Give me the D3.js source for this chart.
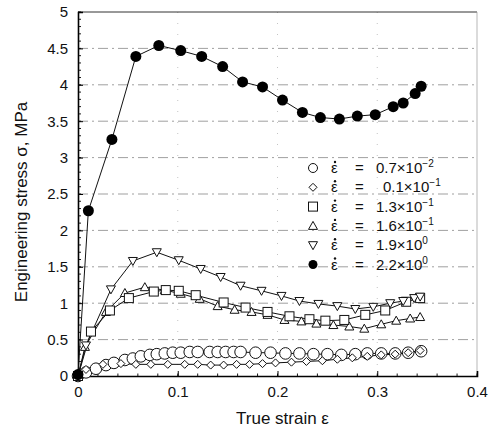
<!DOCTYPE html>
<html><head><meta charset="utf-8">
<script src="https://cdn.jsdelivr.net/npm/d3@7"></script>
<style>body{margin:0;background:#fff}text{font-family:"Liberation Sans",Arial,sans-serif;fill:#111}</style>
</head><body><svg id="c" width="496" height="438"></svg>
<script>
// ---- data ----
const xTicks = [0, 0.1, 0.2, 0.3, 0.4];
const yTicks = [0, 0.5, 1, 1.5, 2, 2.5, 3, 3.5, 4, 4.5, 5];
const yTickLabels = ["0","0.5","1","1.5","2","2.5","3","3.5","4","4.5","5"];
const xTickLabels = ["0","0.1","0.2","0.3","0.4"];

const strainC07 = [0,0.008,0.018,0.028,0.036,0.047,0.055,0.063,0.072,0.079,0.087,0.095,0.103,0.112,0.12,0.132,0.14,0.148,0.156,0.163,0.178,0.193,0.208,0.222,0.236,0.25,0.264,0.278,0.29,0.304,0.318,0.331,0.344];
const stressC07 = [0,0.05,0.10,0.15,0.18,0.22,0.24,0.27,0.29,0.30,0.31,0.32,0.32,0.33,0.33,0.33,0.33,0.33,0.33,0.33,0.32,0.32,0.31,0.31,0.30,0.30,0.29,0.30,0.31,0.31,0.31,0.32,0.34];

const strainD01 = [0,0.008,0.025,0.043,0.058,0.073,0.09,0.107,0.12,0.133,0.146,0.159,0.172,0.185,0.198,0.214,0.229,0.245,0.26,0.275,0.29,0.304,0.318,0.331,0.343];
const stressD01 = [0,0.09,0.16,0.17,0.16,0.16,0.16,0.16,0.16,0.15,0.15,0.16,0.16,0.17,0.18,0.19,0.20,0.21,0.23,0.25,0.27,0.29,0.30,0.32,0.35];

const strainS13 = [0,0.013,0.032,0.051,0.076,0.088,0.101,0.118,0.146,0.168,0.19,0.212,0.232,0.248,0.267,0.288,0.308,0.329,0.343];
const stressS13 = [0,0.61,0.90,1.07,1.16,1.18,1.17,1.11,1.01,0.94,0.88,0.82,0.78,0.76,0.77,0.84,0.90,1.02,1.07];

const strainT16 = [0,0.007,0.028,0.047,0.067,0.087,0.103,0.122,0.14,0.157,0.174,0.19,0.207,0.224,0.239,0.256,0.272,0.287,0.304,0.319,0.333,0.343];
const stressT16 = [0,0.40,0.88,1.14,1.22,1.18,1.13,1.06,0.96,0.91,0.88,0.84,0.77,0.75,0.72,0.70,0.68,0.65,0.71,0.76,0.79,0.81];

const strainV19 = [0,0.008,0.033,0.055,0.079,0.101,0.123,0.143,0.163,0.184,0.204,0.222,0.241,0.26,0.278,0.296,0.313,0.326,0.337,0.343];
const stressV19 = [0,0.42,1.19,1.58,1.70,1.59,1.47,1.36,1.24,1.17,1.10,1.03,0.99,0.96,0.92,0.95,1.00,1.03,1.07,1.09];

const strainF22 = [0,0.0104,0.034,0.058,0.081,0.103,0.124,0.145,0.165,0.185,0.205,0.225,0.243,0.262,0.28,0.298,0.316,0.326,0.338,0.344];
const stressF22 = [0.02,2.27,3.25,4.39,4.54,4.47,4.39,4.25,4.04,3.97,3.79,3.62,3.55,3.53,3.57,3.59,3.70,3.75,3.88,3.98];

const legendMant = ["0.7","0.1","1.3","1.6","1.9","2.2"];
const legendExp = ["-2","-1","-1","-1","0","0"];

// ---- drawing ----
const svg = d3.select("#c");
const x = d3.scaleLinear().domain([0,0.4]).range([78,477]);
const y = d3.scaleLinear().domain([0,5]).range([376,12]);

// grid
const g = svg.append("g");
g.selectAll("line.hg").data(yTicks.slice(1,-1)).join("line")
  .attr("x1",x(0)).attr("x2",x(0.4)).attr("y1",d=>y(d)).attr("y2",d=>y(d))
  .attr("stroke","#777").attr("stroke-width",0.7).attr("stroke-dasharray","10,4,2,4");
g.selectAll("line.vg").data(xTicks.slice(1,-1)).join("line")
  .attr("x1",d=>x(d)).attr("x2",d=>x(d)).attr("y1",y(0)).attr("y2",y(5))
  .attr("stroke","#aaa").attr("stroke-width",0.7).attr("stroke-dasharray","1,10");

// frame
svg.append("line").attr("x1",x(0)).attr("x2",x(0.4)).attr("y1",y(5)).attr("y2",y(5)).attr("stroke","#333").attr("stroke-width",1);
svg.append("line").attr("x1",x(0.4)).attr("x2",x(0.4)).attr("y1",y(5)).attr("y2",y(0)).attr("stroke","#999").attr("stroke-width",0.7);

// axes
const yAxis = d3.axisLeft(y).tickValues(yTicks).tickFormat((d,i)=>yTickLabels[i]).tickSize(-5).tickPadding(10);
const ya = svg.append("g").attr("transform",`translate(${x(0)},0)`).call(yAxis);
const xAxis = d3.axisBottom(x).tickValues(xTicks).tickFormat((d,i)=>xTickLabels[i]).tickSize(-5).tickPadding(10);
const xa = svg.append("g").attr("transform",`translate(0,${y(0)})`).call(xAxis);
[ya,xa].forEach(a=>{a.select(".domain").attr("stroke","#000").attr("stroke-width",1.6);
  a.selectAll(".tick line").attr("stroke","#000");
  a.selectAll("text").style("font-family","'Liberation Sans',Arial,sans-serif").style("font-size","15px").attr("fill","#111");});
// minor ticks
svg.append("g").selectAll("line").data(d3.range(0,5.001,0.1)).join("line")
  .attr("x1",x(0)).attr("x2",x(0)+3).attr("y1",d=>y(d)).attr("y2",d=>y(d)).attr("stroke","#000").attr("stroke-width",0.9);
svg.append("g").selectAll("line").data(d3.range(0,0.4001,0.02)).join("line")
  .attr("x1",d=>x(d)).attr("x2",d=>x(d)).attr("y1",y(0)).attr("y2",y(0)-2.5).attr("stroke","#000").attr("stroke-width",0.9);

// axis titles
svg.append("text").attr("transform",`translate(27,${(y(0)+y(5))/2+8}) rotate(-90)`).attr("text-anchor","middle")
  .style("font-size","17px").text("Engineering stress σ, MPa");
svg.append("text").attr("x",(x(0)+x(0.4))/2+5).attr("y",424).attr("text-anchor","middle")
  .style("font-size","17px").text("True strain ε");

// markers
function marker(sel, type){
  if(type==="circle") sel.append("circle").attr("r",5.8).attr("fill","#fff").attr("stroke","#111").attr("stroke-width",1);
  else if(type==="fcircle") sel.append("circle").attr("r",5.5).attr("fill","#000");
  else if(type==="diamond") sel.append("path").attr("d","M0,-4L4,0L0,4L-4,0Z").attr("fill","#fff").attr("stroke","#111").attr("stroke-width",1);
  else if(type==="square") sel.append("rect").attr("x",-4.5).attr("y",-4.5).attr("width",9).attr("height",9).attr("fill","#fff").attr("stroke","#111").attr("stroke-width",1);
  else if(type==="tri") sel.append("path").attr("d","M0,-4.5L4.5,3.5L-4.5,3.5Z").attr("fill","#fff").attr("stroke","#111").attr("stroke-width",1);
  else if(type==="itri") sel.append("path").attr("d","M0,4.5L4.5,-3.5L-4.5,-3.5Z").attr("fill","#fff").attr("stroke","#111").attr("stroke-width",1);
}
const series = [
  {xs:strainC07, ys:stressC07, m:"circle"},
  {xs:strainD01, ys:stressD01, m:"diamond"},
  {xs:strainT16, ys:stressT16, m:"tri"},
  {xs:strainS13, ys:stressS13, m:"square"},
  {xs:strainV19, ys:stressV19, m:"itri"},
  {xs:strainF22, ys:stressF22, m:"fcircle"}
];
const line = d3.line().x(d=>x(d[0])).y(d=>y(d[1]));
series.forEach(s=>{
  const pts = s.xs.map((v,i)=>[v,s.ys[i]]);
  svg.append("path").attr("d",line(pts)).attr("fill","none").attr("stroke","#111").attr("stroke-width",1);
});
series.forEach(s=>{
  const pts = s.xs.map((v,i)=>[v,s.ys[i]]);
  svg.append("g").selectAll("g").data(pts).join("g")
    .attr("transform",d=>`translate(${x(d[0])},${y(d[1])})`).each(function(){marker(d3.select(this),s.m);});
});

// legend
const legTypes = ["circle","diamond","square","tri","itri","fcircle"];
const lg = svg.append("g");
legTypes.forEach((t,i)=>{
  const yy = 168 + i*19.3;
  const mg = lg.append("g").attr("transform",`translate(313,${yy})`);
  if(t==="circle"){mg.append("circle").attr("r",4.5).attr("fill","#fff").attr("stroke","#111");}
  else if(t==="fcircle"){mg.append("circle").attr("r",4.5).attr("fill","#000");}
  else marker(mg,t);
  lg.append("text").attr("x",331).attr("y",yy+5).style("font-size","15px").text("ε");
  lg.append("circle").attr("cx",335).attr("cy",yy-6).attr("r",1.2).attr("fill","#111");
  lg.append("text").attr("x",355).attr("y",yy+5).style("font-size","15px").text("=");
  const tx = lg.append("text").attr("x", i===1?383:376).attr("y",yy+5).style("font-size","15px");
  tx.append("tspan").text(legendMant[i]+"×10");
  tx.append("tspan").attr("dy",-6).style("font-size","10px").text(legendExp[i].replace("-","\u2212"));
});
</script></body></html>
